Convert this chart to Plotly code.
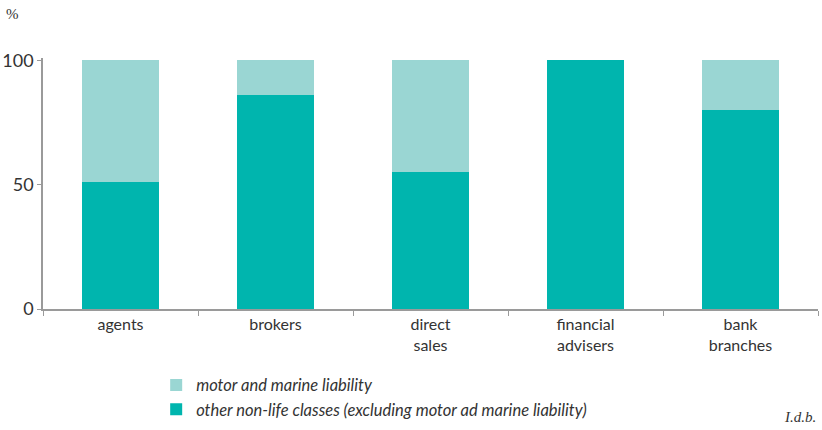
import plotly.graph_objects as go

categories = ["agents", "brokers", "direct<br>sales", "financial<br>advisers", "bank<br>branches"]
other_nonlife = [51, 86, 55, 100, 80]
motor_marine = [49, 14, 45, 0, 20]

series_names = ["motor and marine liability",
                "other non-life classes (excluding motor ad marine liability)"]

C_LIGHT = "#9AD6D3"
C_DARK = "#00B5AE"
FONT = "Lato, 'Noto Sans', sans-serif"

fig = go.Figure()
fig.add_trace(go.Bar(x=categories, y=other_nonlife, name=series_names[1],
                     marker=dict(color=C_DARK, line=dict(width=0))))
fig.add_trace(go.Bar(x=categories, y=motor_marine, name=series_names[0],
                     marker=dict(color=C_LIGHT, line=dict(width=0))))

fig.update_layout(
    barmode="stack",
    bargap=0.5,
    width=822, height=430,
    margin=dict(l=43, r=4, t=58, b=121, autoexpand=False),
    paper_bgcolor="white", plot_bgcolor="white",
    font=dict(family=FONT, size=16, color="#333333"),
    showlegend=True,
    legend=dict(xref="container", yref="container", x=0.19, y=0.145,
                xanchor="left", yanchor="top",
                traceorder="reversed", orientation="v",
                font=dict(size=16.5, style="italic", color="#333333"),
                itemwidth=30, tracegroupgap=0,
                bgcolor="rgba(0,0,0,0)"),
    xaxis=dict(type="category", showline=True, linecolor="#9a9a9a", linewidth=1.5,
               ticks="outside", tickson="boundaries", ticklen=5, tickcolor="#9a9a9a",
               showgrid=False, range=[-0.5, 4.5], tickfont=dict(size=16),
               automargin=False),
    yaxis=dict(range=[0, 101], tickvals=[0, 50, 100], showline=True,
               linecolor="#9a9a9a", linewidth=1.5, ticks="outside", ticklen=4,
               tickcolor="#9a9a9a", showgrid=False, zeroline=False,
               tickfont=dict(size=18), automargin=False),
    annotations=[
        dict(text="%", xref="paper", yref="paper", x=-0.04, y=1.175,
             xanchor="center", yanchor="middle", showarrow=False,
             font=dict(family="'Liberation Serif', serif", size=15, color="#333333")),
        dict(text="<i>I.d.b.</i>", xref="paper", yref="paper", x=1.0, y=-0.47,
             xanchor="right", yanchor="bottom", showarrow=False,
             font=dict(family="'Liberation Serif', serif", size=15, color="#333333")),
    ],
)

fig.write_html("out.html", config={"displayModeBar": False},
               post_script="document.body.style.margin='0';")
